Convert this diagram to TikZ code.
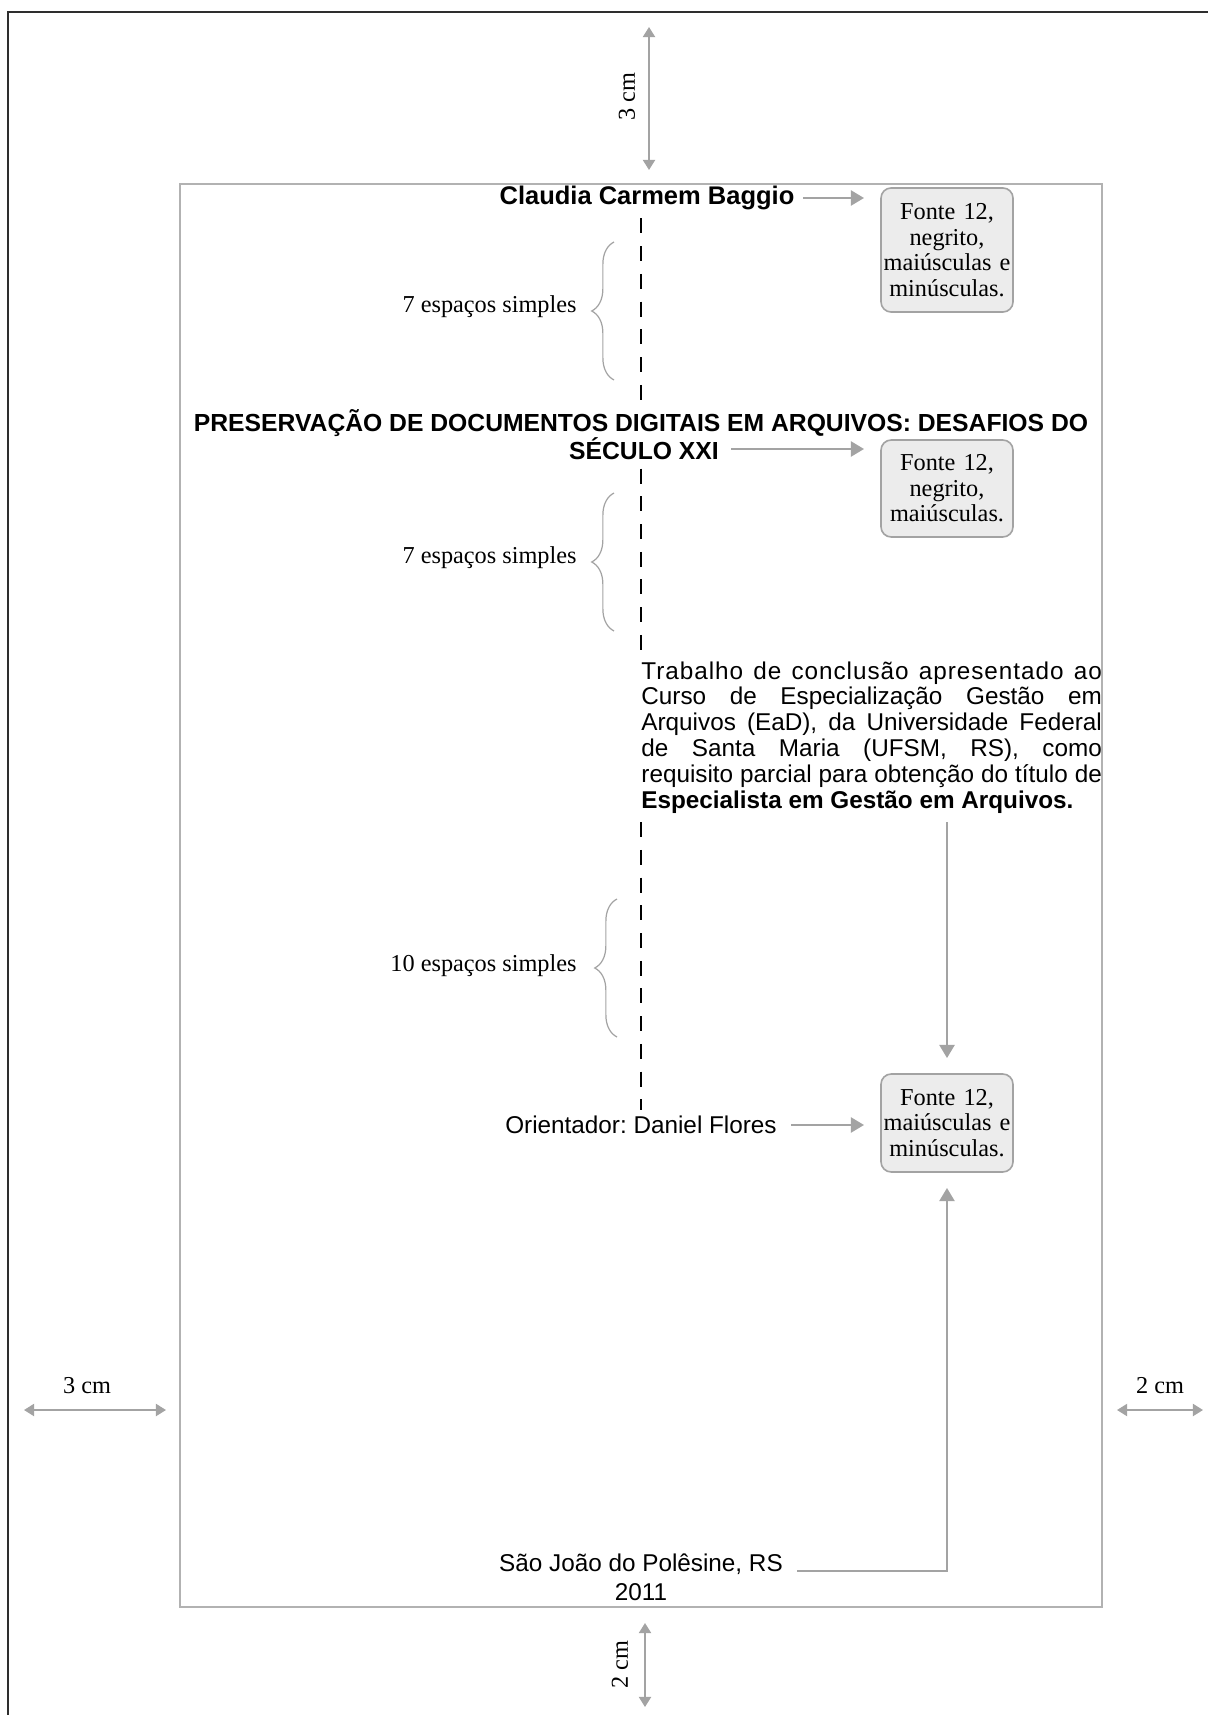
\documentclass[tikz,border=0pt]{standalone}
\usepackage{fontspec}
\setmainfont{Liberation Serif}
\setsansfont{Liberation Sans}
\usetikzlibrary{arrows.meta,decorations.pathreplacing,calc}
\definecolor{arrgray}{HTML}{A3A3A3}
\definecolor{rectgray}{HTML}{B2B2B2}
\definecolor{boxfill}{HTML}{ECECEC}
\definecolor{framecol}{HTML}{2E2E2E}
\begin{document}
\frenchspacing
\begin{tikzpicture}[x=0.49404pt,y=-0.49404pt,
  garrow/.style={draw=arrgray,line width=1pt,-{Triangle[length=6.5pt,width=7.5pt]}},
  dimarrow/.style={draw=arrgray,line width=0.9pt,{Triangle[length=5pt,width=6pt]}-{Triangle[length=5pt,width=6pt]}},
  notebox/.style={draw=arrgray,fill=boxfill,rounded corners=5pt,line width=0.8pt,align=center,
     font=\fontsize{12}{12.6}\selectfont,inner sep=0pt,minimum width=65.2pt,text width=64pt},
  sanstext/.style={font=\sffamily\fontsize{12}{13}\selectfont,inner sep=0pt},
  boldtext/.style={font=\sffamily\bfseries\fontsize{12.2}{13}\selectfont,inner sep=0pt},
  seriflabel/.style={font=\fontsize{12}{13}\selectfont,inner sep=0pt},
  dashline/.style={draw=black,line width=1.1pt,dash pattern=on 7.4pt off 6.3pt},
  bracestyle/.style={draw=arrgray,line width=0.6pt,decorate,decoration={brace,amplitude=11pt}},
]
\useasboundingbox (0,0) rectangle (1207,1715);
% outer page border
\draw[framecol,line width=1pt] (8,1730) -- (8,12) -- (1230,12);
% text area
\draw[rectgray,line width=1.3pt] (180,184) rectangle (1102,1607);

\coordinate (dashx) at (641,0);

% main texts
\node[boldtext,font=\sffamily\bfseries\fontsize{12.6}{13}\selectfont] (claudia) at (647,198) {Claudia Carmem Baggio};
\node[boldtext] (title1) at (641,423) {PRESERVAÇÃO DE DOCUMENTOS DIGITAIS EM ARQUIVOS: DESAFIOS DO};
\node[boldtext] (title2) at (644,449) {SÉCULO XXI};
\node[sanstext,anchor=north west,text width=227.5pt,align=justify,
      font=\sffamily\fontsize{12}{12.8}\selectfont] (par) at (641,661)
 {{\addfontfeature{LetterSpace=4}Trabalho de conclusão apresentado ao}\linebreak
  Curso de Especialização Gestão em\linebreak
  Arquivos (EaD), da Universidade Federal\linebreak
  de Santa Maria (UFSM, RS), como\linebreak
  requisito parcial para obtenção do título de\linebreak
  \textbf{Especialista em Gestão em Arquivos.}};
\node[sanstext] (orient) at (641,1125) {Orientador: Daniel Flores};
\node[sanstext] (city) at (641,1564) {São João do Polêsine, RS};
\node[sanstext] (year) at (641,1592) {2011};

% note boxes
\node[notebox,minimum height=61.3pt] (box1) at (947,250) {Fonte 12,\\negrito,\\maiúsculas e\\minúsculas.};
\node[notebox,minimum height=47.9pt] (box2) at (947,488.5) {Fonte 12,\\negrito,\\maiúsculas.};
\node[notebox,minimum height=48.4pt] (box3) at (947,1123) {Fonte 12,\\maiúsculas e\\minúsculas.};

% dashed guide line
\draw[dashline] ([yshift=-4pt]claudia.south -| dashx) -- ([yshift=3pt]title1.north -| dashx);
\draw[dashline] ([yshift=-4pt]title2.south -| dashx) -- ([yshift=3pt]par.north -| dashx);
\draw[dashline] ([yshift=-4pt]par.south -| dashx) -- ([yshift=3pt]orient.north -| dashx);

% arrows to boxes
\draw[garrow] ([xshift=4pt]claudia.east) -- ([xshift=-8pt]claudia.east -| box1.west);
\draw[garrow] ([xshift=6pt]title2.east) -- ([xshift=-8pt]title2.east -| box2.west);
\draw[garrow] ([xshift=7pt]orient.east) -- ([xshift=-8pt]orient.east -| box3.west);
\draw[garrow] ([yshift=-4pt]par.south -| box3.north) -- ([yshift=7.5pt]box3.north);
\draw[garrow] ([xshift=7pt]city.base east) -| ([yshift=-7.5pt]box3.south);

% braces
\coordinate (br1a) at (614,380); \coordinate (br1b) at (614,242);
\coordinate (br2a) at (614,631); \coordinate (br2b) at (614,493);
\coordinate (br3a) at (617,1037); \coordinate (br3b) at (617,899);
\draw[bracestyle] (br1a) -- (br1b);
\draw[bracestyle] (br2a) -- (br2b);
\draw[bracestyle] (br3a) -- (br3b);
\node[seriflabel,anchor=east] (lab1) at (577,307) {7 espaços simples};
\node[seriflabel,anchor=east] (lab2) at (577,558) {7 espaços simples};
\node[seriflabel,anchor=east] (lab3) at (577,966) {10 espaços simples};

% margin dimensions
\coordinate (mt1) at (649,27); \coordinate (mt2) at (649,170);
\draw[dimarrow] (mt1) -- (mt2);
\node[seriflabel,rotate=90] (mtl) at (627,97) {3 cm};
\coordinate (mb1) at (645,1623); \coordinate (mb2) at (645,1707);
\draw[dimarrow] (mb1) -- (mb2);
\node[seriflabel,rotate=90] (mbl) at (620,1665) {2 cm};
\coordinate (ml1) at (24,1410); \coordinate (ml2) at (166,1410);
\draw[dimarrow] (ml1) -- (ml2);
\node[seriflabel] (mll) at (87,1386) {3 cm};
\coordinate (mr1) at (1117,1410); \coordinate (mr2) at (1203,1410);
\draw[dimarrow] (mr1) -- (mr2);
\node[seriflabel] (mrl) at (1160,1386) {2 cm};
\end{tikzpicture}
\end{document}
